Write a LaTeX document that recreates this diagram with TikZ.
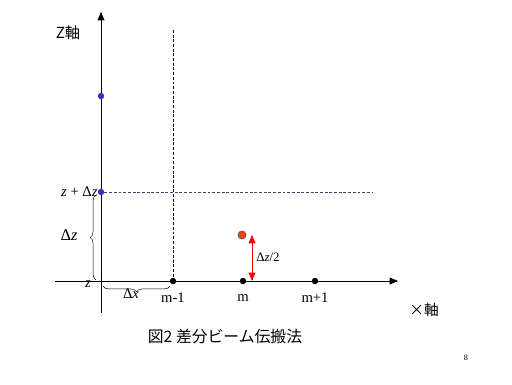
\documentclass[tikz,border=0pt]{standalone}
\usepackage{fontspec}
\setmainfont{Liberation Serif}
\newfontfamily\jpfont{Noto Sans CJK JP}
\usepackage{tikz}
\usetikzlibrary{arrows, decorations.pathreplacing}
\definecolor{dotblue}{RGB}{50,50,200}
\definecolor{dotred}{RGB}{235,70,20}
\definecolor{guidegray}{RGB}{70,70,110}
\tikzstyle{bluedot} = [circle, fill=dotblue, inner sep=0pt, minimum size=5.5pt]
\tikzstyle{blackdot} = [circle, fill=black, inner sep=0pt, minimum size=5.5pt]
\tikzstyle{reddot} = [circle, fill=dotred, draw=black!70, line width=0.4pt, inner sep=0pt, minimum size=7pt]
\tikzstyle{label} = [inner sep=1pt, font=\fontsize{12.5}{14}\selectfont]
\tikzstyle{jplabel} = [inner sep=1pt, font=\jpfont\fontsize{12.5}{14}\selectfont]
\tikzstyle{axis} = [line width=0.6pt,-triangle 45]
\tikzstyle{guide} = [dash pattern=on 2.5pt off 1.5pt, line width=0.5pt]
\tikzstyle{brc} = [decorate, decoration={brace, amplitude=5pt}, line width=0.4pt]

\begin{document}
\begin{tikzpicture}[x=0.03cm, y=-0.03cm]
        \useasboundingbox (0,0) rectangle (512,384);
        % Axes
        \coordinate (zbottom) at (101,313);
        \coordinate (ztop) at (101,12);
        \coordinate (xleft) at (55,281);
        \coordinate (xright) at (398,281);
        \draw [axis] (zbottom) -- (ztop);
        \draw [axis] (xleft) -- (xright);

        % Nodes
        \node (zdz) [bluedot] at (101,192) {};
        \node (zup) [bluedot] at (101,96) {};
        \node (mm1) [blackdot] at (173,281) {};
        \node (m) [blackdot] at (243,281) {};
        \node (mp1) [blackdot] at (315,281) {};
        \node (half) [reddot] at (242,235) {};
        \coordinate (guidetop) at (173,30);
        \coordinate (guideend) at (373,192);
        \coordinate (hcentre) at (252,235);
        \coordinate (hbase) at (252,281);

        % Labels
        \node (zaxis) [jplabel, font=\jpfont\fontsize{13}{15}\selectfont] at (68,33) {Z軸};
        \node (xaxis) [jplabel] at (424,310) {×軸};
        \node (lmm1) [label] at (173,298) {m-1};
        \node (lm) [label] at (243,298) {m};
        \node (lmp1) [label] at (315,298) {m+1};
        \node (lzdz) [label, anchor=east] at (99,192) {\textit{z} + Δ\textit{z}};
        \node (ldz) [label, font=\fontsize{14}{16}\selectfont] at (69,235) {Δ\textit{z}};
        \node (lz) [label] at (88,284) {\textit{z}};
        \node (ldx) [label] at (131,294) {Δ\textit{x}};
        \node (lhalf) [label, font=\fontsize{11}{13}\selectfont] at (268,257) {Δ\textit{z}/2};
        \node (title) [jplabel, font=\jpfont\fontsize{13.5}{16}\selectfont] at (225,337) {図2 差分ビーム伝搬法};
        \node (page) [label, font=\fontsize{7}{8}\selectfont] at (466,358) {8};

        % Guides and arrows
        \draw [guide] (guidetop) -- (mm1);
        \draw [guide, guidegray] (zdz) -- (guideend);
        \draw [red, line width=0.6pt, triangle 45-triangle 45] (hcentre) -- (hbase);
        \draw [brc] (96,280) -- (96,195);
        \draw [brc] (170,286) -- (103,286);
    \end{tikzpicture}
\end{document}
